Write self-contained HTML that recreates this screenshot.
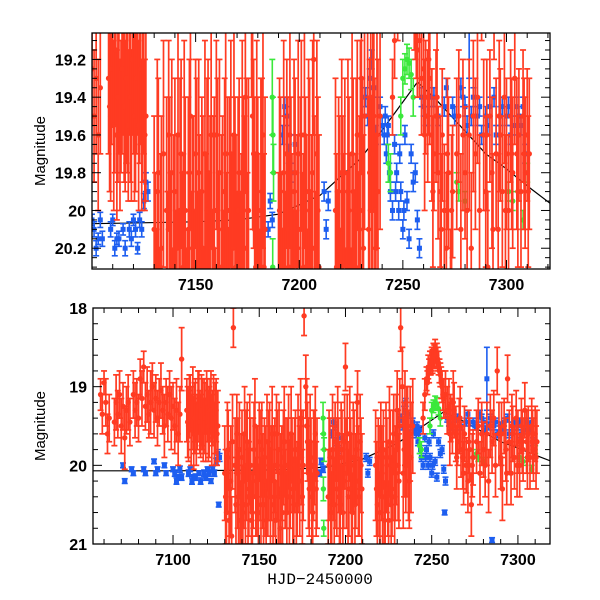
<!DOCTYPE html>
<html><head><meta charset="utf-8"><style>
html,body{margin:0;padding:0;background:#fff;}
svg{display:block;font-family:"Liberation Sans",sans-serif;}
</style></head><body>
<svg id="c" width="600" height="600"></svg>
<script>
const redT=[7058,7059,7060,7061,7062,7063,7066,7067,7068,7069,7070,7071,7072,7073,7074,7075,7077,7078,7079,7080,7081,7082,7083,7084,7085,7086,7087,7088,7089,7090,7091,7092,7093,7094,7095,7096,7097,7098,7099,7100,7101,7102,7103,7104,7105,
7108,7109,7110,7111,7112,7113,7114,7115,7116,7117,7118,7119,7120,7121,7122,7123,7124,7125,7126,
7130,7131,7132,7133,7134,7135,7136,7137,7138,7139,7140,7141,7142,7143,7144,7145,7146,7147,7148,7149,7150,7151,7152,7153,7154,7155,7156,7157,7158,7159,7160,7161,7162,7163,7164,7165,7166,7167,7168,7169,7170,7171,7172,7173,7174,7175,7176,7177,7178,7179,7180,7181,7182,7183,
7190,7191,7192,7193,7194,7195,7196,7197,7198,7199,7200,7201,7202,7203,7204,7205,7206,7207,7208,7209,
7218,7219,7220,7221,7222,7223,7224,7225,7226,7227,7228,7229,7230,7231,7232,7233,7234,7235,7236,7237,
7245,7246,7247,7248,7249,7250,7251,7252,7253,7254,7255,7256,7257,7258,7259,7260,7261,7262,7263,7264,7265,7266,7267,7268,7269,7270,7271,7272,7273,7274,7276,7277,7278,7280,7282,7283,7285,7286,7287,7288,7289,7290,7291,7292,7293,7294,7295,7296,7297,7298,7299,7300,7301,7302,7303,7304,7305,7306,7307,7308,7309,7310,7311];
const redM=[19.1,19.35,18.95,19.2,19.6,19.4,19.45,19.2,19.35,19.1,19.5,19.25,19.65,19.3,19.2,19.45,19.1,19.3,19.2,19.4,18.9,19.15,18.75,19.25,19.1,19.35,19.2,19.0,19.3,19.15,19.4,19.2,19.05,19.3,19.5,19.2,19.35,19.1,19.4,19.25,19.5,19.3,19.6,19.35,18.65,
19.3,19.5,19.2,19.4,19.6,19.3,19.45,19.2,19.5,19.35,19.25,19.55,19.3,19.45,19.2,19.4,19.6,19.3,19.5,
20.1,20.6,19.8,20.3,20.9,18.25,20.0,19.6,20.4,20.7,19.9,20.2,20.5,19.7,20.3,20.0,20.6,19.8,20.4,20.1,19.7,20.5,20.2,19.9,20.7,20.3,19.8,20.1,20.5,20.0,19.6,20.4,20.8,20.1,19.9,20.3,20.6,19.7,20.2,20.0,20.5,19.8,20.3,20.0,19.4,20.4,18.1,19.0,19.7,20.3,20.0,20.6,19.9,20.3,
20.4,19.9,20.6,20.1,19.7,20.3,20.0,20.5,19.8,20.2,18.75,19.6,20.3,20.0,20.6,19.9,20.2,19.2,20.4,20.0,
20.3,19.9,20.6,20.1,19.8,20.4,20.0,20.7,19.9,20.3,19.6,20.1,19.3,20.2,18.25,19.0,19.8,20.0,19.5,20.2,
19.4,19.1,18.9,18.75,18.7,18.65,18.6,18.55,18.6,18.7,18.85,19.0,19.15,19.1,19.3,19.25,19.4,19.5,19.3,19.6,19.7,19.5,19.8,19.9,19.6,20.0,20.2,19.8,20.5,19.9,19.7,19.5,20.1,19.8,19.6,20.2,19.7,19.4,20.0,18.8,19.6,19.9,20.3,19.5,19.8,18.9,19.7,20.1,19.6,19.9,19.4,19.7,20.0,19.5,19.8,19.3,19.7,19.6,19.9,19.5,19.8,19.6,19.7];
const redE=[.2,.25,.15,.3,.25,.3,.3,.35,.3,.3,.35,.3,.4,.3,.35,.3,.3,.35,.3,.3,.25,.35,.2,.3,.35,.3,.4,.3,.35,.3,.35,.3,.35,.3,.4,.3,.35,.3,.4,.3,.35,.4,.4,.35,.4,
.4,.45,.35,.4,.45,.4,.35,.4,.4,.45,.35,.4,.4,.45,.4,.35,.4,.4,.45,
.6,.5,.5,.6,.5,.25,.6,.5,.6,.5,.6,.6,.5,.5,.6,.6,.5,.6,.5,.6,.5,.6,.6,.5,.5,.6,.6,.6,.5,.6,.5,.6,.5,.6,.6,.5,.5,.6,.6,.6,.6,.5,.6,.6,.5,.6,.25,.4,.5,.6,.6,.5,.6,.6,
.6,.5,.5,.6,.5,.6,.6,.5,.5,.6,.3,.5,.6,.6,.5,.6,.6,.4,.5,.6,
.6,.5,.5,.6,.5,.6,.6,.5,.6,.6,.5,.6,.5,.6,.3,.5,.6,.6,.5,.6,
.2,.2,.15,.15,.15,.15,.15,.15,.15,.15,.15,.2,.25,.3,.3,.35,.3,.35,.35,.35,.3,.35,.35,.4,.35,.35,.4,.4,.4,.35,.4,.35,.4,.35,.4,.4,.4,.35,.4,.3,.4,.4,.4,.35,.4,.3,.4,.4,.35,.4,.35,.4,.4,.35,.4,.35,.4,.35,.4,.35,.4,.35,.4];
const redT2=[7130.5,7131.5,7132.5,7133.5,7134.5,7136.5,7137.5,7138.5,7139.5,7140.5,7141.5,7142.5,7143.5,7144.5,7145.5,7146.5,7147.5,7148.5,7149.5,7150.5,7151.5,7152.5,7153.5,7154.5,7155.5,7156.5,7157.5,7158.5,7159.5,7160.5,7161.5,7162.5,7163.5,7164.5,7165.5,7166.5,7167.5,7168.5,7169.5,7170.5,7171.5,7172.5,7173.5,7174.5,7175.5,7177.5,7178.5,7179.5,7180.5,7181.5,7182.5,7183.5,
7190.5,7191.5,7192.5,7193.5,7194.5,7195.5,7196.5,7197.5,7198.5,7199.5,7200.5,7201.5,7202.5,7203.5,7204.5,7205.5,7206.5,7207.5,7208.5,7209.5,
7217.5,7218.5,7219.5,7220.5,7221.5,7222.5,7223.5,7224.5,7225.5,7226.5,7227.5,7228.5,7229.5,7230.5,7231.5,7233.5,7234.5,7235.5,7236.5,7237.5,7238,7239,
7108.5,7109.5,7110.5,7111.5,7112.5,7113.5,7114.5,7115.5,7116.5,7117.5,7118.5,7119.5,7120.5,7121.5,7122.5,7123.5,7124.5,7125.5,
7260.5,7262.5,7264.5,7266.5,7268.5,7271.5,7273.5,7279,7281,7284,7290.5,7293.5,7296.5,7299.5,7302.5,7305.5,7308.5,7310.5,
7247.5,7248.5,7249.5,7250.5,7251.5,7252.5,7253.5,7254.5,7255.5,7256.5];
const redM2=[20.4,19.9,20.7,20.2,19.7,20.5,20.1,19.8,20.3,20.6,19.6,20.0,20.4,19.8,20.7,20.1,19.5,20.2,20.6,20.0,19.8,20.5,20.2,19.7,20.0,20.4,19.6,20.2,20.7,20.0,19.8,20.3,20.6,19.7,20.1,20.0,20.4,19.6,20.3,20.0,20.5,19.8,20.2,19.9,20.0,19.5,20.1,19.7,20.4,20.0,19.6,20.1,
20.0,20.4,19.8,20.5,20.1,19.6,20.4,19.9,20.6,19.7,20.1,20.4,19.6,20.3,19.9,20.5,19.8,20.2,19.7,20.3,
20.0,20.5,20.2,19.8,20.4,20.7,19.9,20.3,19.7,20.5,20.0,20.4,19.8,20.0,19.5,20.1,19.4,19.7,20.0,19.6,19.9,19.5,
19.45,19.25,19.55,19.15,19.4,19.6,19.25,19.45,19.3,19.55,19.4,19.2,19.5,19.3,19.55,19.25,19.4,19.6,
19.6,19.2,19.9,19.4,20.1,19.7,20.0,19.6,20.0,19.5,19.6,20.1,19.5,20.0,19.7,19.9,19.7,19.9,
18.95,18.8,18.7,18.68,18.62,18.6,18.65,18.8,18.95,19.1];
const redE2=[.6,.7,.5,.7,.6,.6,.7,.6,.7,.6,.6,.7,.6,.7,.5,.7,.6,.7,.6,.7,.6,.6,.7,.6,.7,.6,.6,.7,.5,.7,.6,.7,.6,.7,.7,.6,.7,.6,.7,.6,.6,.7,.7,.6,.7,.6,.7,.6,.7,.7,.6,.7,
.7,.6,.7,.6,.7,.6,.7,.7,.6,.6,.7,.6,.6,.7,.7,.6,.7,.7,.6,.7,
.7,.6,.7,.6,.7,.5,.7,.6,.7,.6,.7,.6,.7,.7,.6,.7,.6,.7,.7,.6,.7,.6,
.45,.4,.45,.4,.45,.4,.45,.4,.45,.4,.45,.4,.45,.4,.45,.4,.45,.4,
.4,.4,.4,.4,.4,.4,.4,.4,.4,.4,.4,.4,.4,.4,.4,.4,.4,.4,
.15,.15,.15,.15,.15,.15,.15,.15,.2,.2];
const blueT=[7071,7072,7076,7077,7083,7084,7089,7090,7091,7095,7096,7100,7103,7110,7112,7115,7120,7122,7124,7125,7126,7126.5,7185,7186,7187,7192,7193,7194,7195,7196,7198,7212,7213,7214,7232,7234,7236,7240,7241,7242,7243,7244,7245,7246,7247,7248,7249,7250,7251,7252,7253,7254,7256,7257,7258,7257.5,7260,7262,7265,7270,7275,7278,7280,7281,7282,7284,7286,7288,7290,7292,7295,7298,7300,7302,7305,7307,7309,7285,
7101,7102,7104,7105,7109,7111,7113,7116,7118,7119,7121,7123,7127,7233,7235,7237,7239,7241.5,7242.5,7243.5,7246.5,7248.5,7250.5,7255,7259,7261,7264,7267,7271,7274,7279,7283,7287,7291,7294,7297,7301,7304,7306,7308];
const blueM=[20.0,20.2,20.05,20.1,20.05,20.1,19.95,20.1,20.05,20.0,20.1,20.05,20.15,20.05,20.15,20.1,20.05,20.2,20.1,19.95,19.85,20.5,20.1,19.95,20.05,19.6,19.45,19.5,19.7,19.8,19.65,19.9,20.1,19.95,19.4,19.3,19.35,19.55,19.6,19.7,19.55,19.9,20.0,19.65,19.8,20.0,19.9,20.1,19.6,19.95,20.15,19.7,19.8,20.05,20.2,20.6,19.45,19.5,19.4,19.45,19.5,19.35,19.45,19.55,18.9,19.4,19.5,19.6,19.5,19.45,19.6,19.45,19.5,19.6,19.45,19.55,19.7,20.95,
20.1,20.2,20.05,20.15,20.1,20.2,20.15,20.2,20.1,20.15,20.1,20.05,19.9,19.5,19.2,19.6,19.45,19.5,19.6,19.8,19.9,19.7,20.0,19.85,19.4,19.5,19.4,19.5,19.35,19.45,19.4,19.5,19.45,19.55,19.4,19.5,19.45,19.55,19.5,19.45];
const blueE=[.03,.03,.03,.03,.03,.03,.03,.03,.03,.03,.03,.03,.03,.03,.03,.03,.03,.03,.04,.04,.05,.03,.04,.04,.04,.05,.05,.05,.05,.05,.05,.05,.05,.05,.05,.05,.05,.05,.05,.05,.05,.05,.05,.05,.05,.05,.05,.05,.05,.05,.05,.05,.05,.05,.05,.03,.05,.05,.05,.05,.05,.05,.05,.05,.4,.05,.05,.05,.05,.05,.05,.05,.05,.05,.05,.05,.05,.03,
.04,.04,.04,.04,.04,.04,.04,.04,.04,.04,.04,.04,.05,.05,.05,.05,.05,.05,.05,.05,.05,.05,.05,.05,.05,.05,.05,.05,.05,.05,.05,.05,.05,.05,.05,.05,.05,.05,.05,.05];
const greenT=[7187,7187.3,7187.6,7187.2,7187.4,7250,7251,7252,7253,7254,7255,7249,7243,7244,7276,7277,7280,7301,7303,7308,7310];
const greenM=[19.4,19.6,19.8,20.3,20.8,19.3,19.25,19.2,19.22,19.28,19.4,19.5,19.75,19.8,19.85,19.9,19.95,19.9,19.95,20.05,19.8];
const greenE=[.2,.2,.15,.15,.1,.1,.08,.08,.08,.08,.1,.1,.1,.1,.05,.05,.05,.05,.05,.05,.05];
const modelT=[7050,7100,7150,7170,7190,7210,7230,7245,7257,7265,7275,7290,7300,7310,7322];
const modelM=[20.07,20.07,20.06,20.05,20.02,19.92,19.72,19.5,19.32,19.4,19.52,19.7,19.78,19.87,19.97];
const topXTicks=[7150,7200,7250,7300];
const topYTicks=[19.2,19.4,19.6,19.8,20,20.2];
const botXTicks=[7100,7150,7200,7250,7300];
const botYTicks=[18,19,20,21];

const NS="http://www.w3.org/2000/svg";
const svg=document.getElementById('c');
function mk(tag,attrs,parent){const e=document.createElementNS(NS,tag);for(const k in attrs)e.setAttribute(k,attrs[k]);(parent||svg).appendChild(e);return e;}

function panel(cfg){
  const {x0,x1,y0,y1,t0,t1,m0,m1,name}=cfg;
  const sx=t=>x0+(t-t0)/(t1-t0)*(x1-x0);
  const sy=m=>y0+(m-m0)/(m1-m0)*(y1-y0);
  const g=mk('g',{});
  
  
  const cid=name+'-clip';
  const cp=mk('clipPath',{id:cid},g);mk('rect',{x:x0,y:y0,width:x1-x0,height:y1-y0},cp);
  const plot=mk('g',{'clip-path':'url(#'+cid+')'},g);
  let d='';modelT.forEach((t,i)=>{d+=(i?'L':'M')+sx(t).toFixed(1)+','+sy(modelM[i]).toFixed(1);});
  const ml=mk('path',{d:d,fill:'none',stroke:'#000','stroke-width':1.2},plot);
  
  
  function series(T,M,E,col,sname,sq,w){
    const sg=mk('g',{},plot);
    
    
    for(let i=0;i<T.length;i++){
      const x=sx(T[i]),ya=sy(M[i]-E[i]),yb=sy(M[i]+E[i]),y=sy(M[i]);
      mk('line',{x1:x,x2:x,y1:ya,y2:yb,stroke:col,'stroke-width':w},sg);
      mk('line',{x1:x-3,x2:x+3,y1:ya,y2:ya,stroke:col,'stroke-width':w},sg);
      mk('line',{x1:x-3,x2:x+3,y1:yb,y2:yb,stroke:col,'stroke-width':w},sg);
      const p=sq?mk('rect',{x:x-2.5,y:y-2.5,width:5,height:5,fill:col},sg):mk('circle',{cx:x,cy:y,r:2.7,fill:col},sg);
      
      
    }
  }
  series(blueT,blueM,blueE,'#1d5ef0','blue-series',true,1.6);
  series(greenT,greenM,greenE,'#3be83b','green-series',false,1.6);
  series(redT.concat(redT2),redM.concat(redM2),redE.concat(redE2),'#ff3b22','red-series',false,1.7);
  mk('rect',{x:x0,y:y0,width:x1-x0,height:y1-y0,fill:'none',stroke:'#000','stroke-width':1.3},g);
  for(let t=Math.ceil(t0/10)*10;t<=t1;t+=10){
    const x=sx(t),L=(t%50===0)?9:5;
    mk('line',{x1:x,x2:x,y1:y1,y2:y1-L,stroke:'#000'},g);
    mk('line',{x1:x,x2:x,y1:y0,y2:y0+L,stroke:'#000'},g);
  }
  cfg.xt.forEach(t=>{const tx=mk('text',{x:sx(t),y:y1+21,'text-anchor':'middle','font-size':16,'font-weight':'bold'},g);tx.textContent=t;
    });
  for(let k=Math.ceil(m0/cfg.minor-1e-6);k*cfg.minor<=m1+1e-6;k++){
    const m=k*cfg.minor,y=sy(m);
    const major=Math.abs(m/cfg.major-Math.round(m/cfg.major))<1e-6;
    const L=major?9:5;
    mk('line',{x1:x0,x2:x0+L,y1:y,y2:y,stroke:'#000'},g);
    mk('line',{x1:x1,x2:x1-L,y1:y,y2:y,stroke:'#000'},g);
  }
  cfg.yt.forEach(m=>{const tx=mk('text',{x:x0-6,y:sy(m)+6,'text-anchor':'end','font-size':16,'font-weight':'bold'},g);tx.textContent=m;
    });
  const yl=mk('text',{x:0,y:0,transform:'translate(45,'+((y0+y1)/2)+') rotate(-90)','text-anchor':'middle','font-size':15},g);
  yl.textContent='Magnitude';
  
  
}
panel({name:'top-panel',x0:92,x1:550,y0:33,y1:269,t0:7100,t1:7321,m0:19.06,m1:20.31,xt:topXTicks,yt:topYTicks,major:0.2,minor:0.05});
panel({name:'bottom-panel',x0:93,x1:550,y0:308,y1:544,t0:7053.6,t1:7318.6,m0:18,m1:21,xt:botXTicks,yt:botYTicks,major:1,minor:0.2});
const xl=mk('text',{x:320,y:584,'text-anchor':'middle','font-size':16,'font-family':'Liberation Mono, monospace'});
xl.textContent='HJD\u22122450000';


</script>
</body></html>
